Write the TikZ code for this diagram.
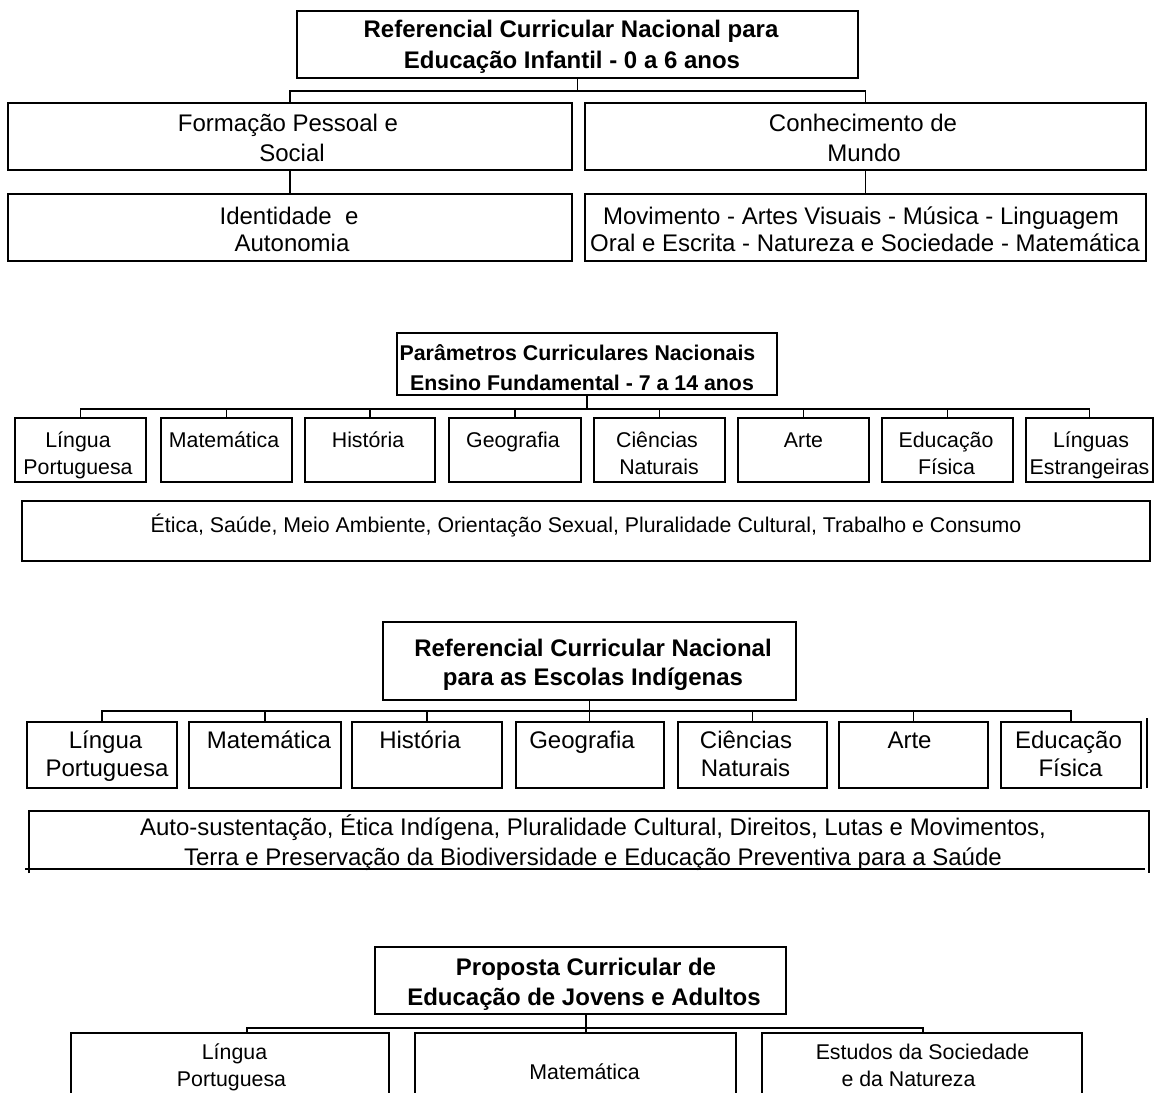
\documentclass[tikz,border=0pt]{standalone}
\usepackage{fontspec}
\setmainfont{Liberation Sans}
\newcommand\bx[5]{\node[box,minimum width={(#4-#2)*0.75pt},minimum height={(#5-#3)*0.75pt}] (#1) at ({(#2+#4)/2},{(#3+#5)/2}) {};}
\newcommand\tline[5]{\node[#1] (#2) at (#3,#4) {#5};}
\begin{document}
\begin{tikzpicture}[x=0.75pt,y=-0.75pt,
  box/.style={draw=black, line width=1.1pt, inner sep=0pt, outer sep=0pt},
  conn/.style={draw=black, line width=0.8pt},
  tb/.style={font=\fontsize{18pt}{18pt}\selectfont\bfseries, inner sep=0pt, anchor=base},
  tbs/.style={font=\fontsize{16pt}{16pt}\selectfont\bfseries, inner sep=0pt, anchor=base},
  tr/.style={font=\fontsize{18pt}{18pt}\selectfont, inner sep=0pt, anchor=base},
  trs/.style={font=\fontsize{16pt}{16pt}\selectfont, inner sep=0pt, anchor=base}]
\path[use as bounding box] (0,0) rectangle (1155,1092);
\fill[white] (0,0) rectangle (1155,1092);
\clip (0,0) rectangle (1155,1092);

% ---------- Section 1 ----------
\bx{T1}{297}{11}{858}{78}
\tline{tb}{T1a}{571}{37.6}{Referencial Curricular Nacional para}
\tline{tb}{T1b}{572}{68.6}{Educação Infantil - 0 a 6 anos}
\bx{FP}{8}{103}{572}{170}
\tline{tr}{FPa}{288}{131.6}{Formação Pessoal e}
\tline{tr}{FPb}{292}{161.6}{Social}
\bx{CM}{585}{103}{1146}{170}
\tline{tr}{CMa}{863}{131.6}{Conhecimento de}
\tline{tr}{CMb}{864}{161.6}{Mundo}
\bx{IA}{8}{194}{572}{261}
\tline{tr}{IAa}{289}{224.6}{Identidade\ \ e}
\tline{tr}{IAb}{292}{251.6}{Autonomia}
\bx{MV}{585}{194}{1146}{261}
\tline{tr}{MVa}{861}{224.6}{Movimento - Artes Visuais - Música - Linguagem}
\tline{tr}{MVb}{865}{251.6}{Oral e Escrita - Natureza e Sociedade - Matemática}
\coordinate (j1) at (577.5,91);
\draw[conn] (T1.south) -- (j1);
\draw[conn] (FP.north) |- (j1) -| (CM.north);
\draw[conn] (FP.south) -- (IA.north);
\draw[conn] (CM.south) -- (MV.north);

% ---------- Section 2 ----------
\bx{T2}{397}{333}{777}{395}
\tline{tbs}{T2a}{577.5}{360.7}{Parâmetros Curriculares Nacionais}
\tline{tbs}{T2b}{582}{390.7}{Ensino Fundamental - 7 a 14 anos}
\bx{P1}{15}{418}{146}{482}
\bx{P2}{161}{418}{292}{482}
\bx{P3}{305}{418}{435}{482}
\bx{P4}{449}{418}{581}{482}
\bx{P5}{594}{418}{725}{482}
\bx{P6}{738}{418}{869}{482}
\bx{P7}{882}{418}{1013}{482}
\bx{P8}{1026}{418}{1153}{482}
\tline{trs}{P1a}{78}{447.7}{Língua}
\tline{trs}{P1b}{78}{474.7}{Portuguesa}
\tline{trs}{P2a}{224}{447.7}{Matemática}
\tline{trs}{P3a}{368}{447.7}{História}
\tline{trs}{P4a}{513}{447.7}{Geografia}
\tline{trs}{P5a}{657}{447.7}{Ciências}
\tline{trs}{P5b}{659}{474.7}{Naturais}
\tline{trs}{P6a}{803.5}{447.7}{Arte}
\tline{trs}{P7a}{946}{447.7}{Educação}
\tline{trs}{P7b}{946.5}{474.7}{Física}
\tline{trs}{P8a}{1091}{447.7}{Línguas}
\tline{trs}{P8b}{1089.5}{474.7}{Estrangeiras}
\coordinate (j2) at (587,409);
\draw[conn] (T2.south) -- (j2);
\draw[conn] (P1.north) |- (j2) -| (P8.north);
\foreach \n in {P2,P3,P4,P5,P6,P7} \draw[conn] (\n.north) -- (\n.north |- j2);
\bx{E2}{22}{501}{1150}{561}
\tline{trs}{E2a}{586}{532.7}{Ética, Saúde, Meio Ambiente, Orientação Sexual, Pluralidade Cultural, Trabalho e Consumo}

% ---------- Section 3 ----------
\bx{T3}{383}{622}{796}{700}
\tline{tb}{T3a}{593}{656.6}{Referencial Curricular Nacional}
\tline{tb}{T3b}{593}{685.6}{para as Escolas Indígenas}
\bx{Q1}{27}{722}{177}{788}
\bx{Q2}{189}{722}{341}{788}
\bx{Q3}{352}{722}{502}{788}
\bx{Q4}{516}{722}{664}{788}
\bx{Q5}{678}{722}{827}{788}
\bx{Q6}{839}{722}{988}{788}
\bx{Q7}{1001}{722}{1141}{788}
\tline{tr}{Q1a}{105.5}{748.6}{Língua}
\tline{tr}{Q1b}{107}{776.6}{Portuguesa}
\tline{tr}{Q2a}{269}{748.6}{Matemática}
\tline{tr}{Q3a}{420}{748.6}{História}
\tline{tr}{Q4a}{582}{748.6}{Geografia}
\tline{tr}{Q5a}{746}{748.6}{Ciências}
\tline{tr}{Q5b}{745.5}{776.6}{Naturais}
\tline{tr}{Q6a}{909.5}{748.6}{Arte}
\tline{tr}{Q7a}{1068.5}{748.6}{Educação}
\tline{tr}{Q7b}{1070.5}{776.6}{Física}
\coordinate (j3) at (589.5,711);
\draw[conn] (T3.south) -- (T3.south |- Q4.north);
\draw[conn] (Q1.north) |- (j3) -| (Q7.north);
\foreach \n in {Q2,Q3,Q5,Q6} \draw[conn] (\n.north) -- (\n.north |- j3);
\draw[line width=1.6pt] (1147,718) -- (1147,788);
\node[box,draw=none,minimum width={(1149-29)*0.75pt},minimum height={(873-811)*0.75pt}] (B3) at (589,842) {};
\draw[line width=1.1pt] (B3.south west) -- (B3.north west) -- (B3.north east) -- (B3.south east);
\draw[line width=1.6pt] (25,869) -- (1145,869);
\tline{tr}{B3a}{593}{835.6}{Auto-sustentação, Ética Indígena, Pluralidade Cultural, Direitos, Lutas e Movimentos,}
\tline{tr}{B3b}{593}{865.6}{Terra e Preservação da Biodiversidade e Educação Preventiva para a Saúde}

% ---------- Section 4 ----------
\bx{T4}{375}{947}{786}{1014}
\tline{tb}{T4a}{586}{975.6}{Proposta Curricular de}
\tline{tb}{T4b}{584}{1005.6}{Educação de Jovens e Adultos}
\bx{R1}{71}{1033}{389}{1110}
\bx{R2}{415}{1033}{736}{1110}
\bx{R3}{762}{1033}{1082}{1110}
\tline{trs}{R1a}{234.5}{1059.7}{Língua}
\tline{trs}{R1b}{231.5}{1086.7}{Portuguesa}
\tline{trs}{R2a}{584.5}{1079.7}{Matemática}
\tline{trs}{R3a}{922.5}{1059.7}{Estudos da Sociedade}
\tline{trs}{R3b}{908.5}{1086.7}{e da Natureza}
\coordinate (l4) at (247,1028);
\coordinate (r4) at (923,1028);
\coordinate (m4) at (586,1028);
\draw[conn,line width=1.4pt] (l4 |- R1.north) -- (l4) -- (r4) -- (r4 |- R3.north);
\draw[conn] (m4 |- T4.south) -- (m4 |- R2.north);
\end{tikzpicture}
\end{document}
